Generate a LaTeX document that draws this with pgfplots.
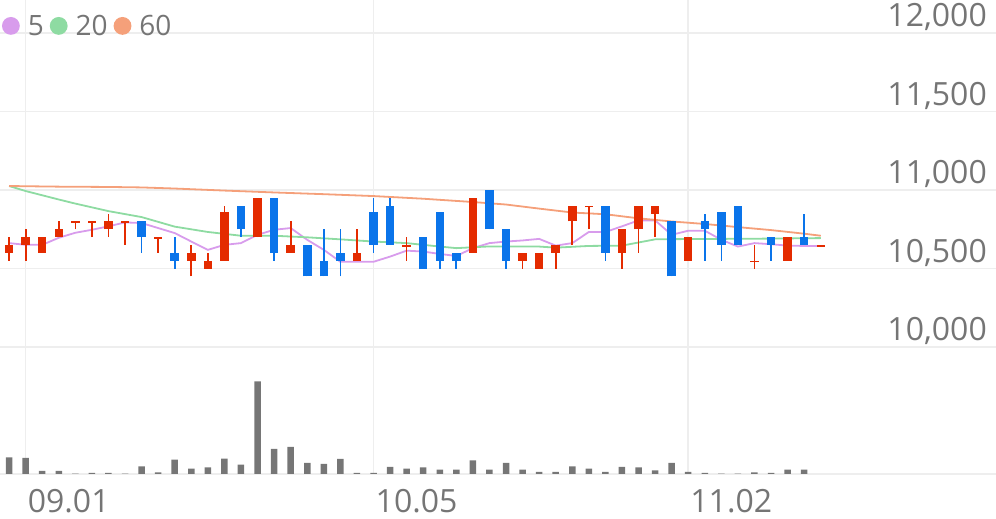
\documentclass[border=0pt]{standalone}
\usepackage{fontspec}
\setmainfont{Open Sans}
\usepackage{pgfplots}
\pgfplotsset{compat=1.18}
\usepackage{pgfplotstable}
\definecolor{upred}{HTML}{E42B00}
\definecolor{dnblue}{HTML}{0A74EA}
\definecolor{ma5}{HTML}{D89CEC}
\definecolor{ma20}{HTML}{8EDBA2}
\definecolor{ma60}{HTML}{F5A07A}
\definecolor{volc}{HTML}{767676}
\definecolor{gridc}{HTML}{EEEEEE}
\definecolor{txt}{HTML}{757575}

\pgfplotstableread{
i o h l c
0 10600 10700 10550 10650
1 10650 10750 10550 10700
2 10600 10700 10600 10700
3 10700 10800 10700 10750
4 10790 10800 10750 10800
5 10790 10800 10700 10800
6 10750 10850 10700 10800
7 10790 10800 10650 10800
9 10690 10700 10600 10700
11 10550 10650 10450 10600
12 10500 10600 10500 10550
13 10550 10900 10550 10860
15 10700 10950 10700 10950
17 10600 10800 10600 10650
21 10550 10750 10550 10600
24 10640 10700 10550 10650
28 10600 10950 10600 10950
31 10550 10600 10500 10600
32 10500 10600 10500 10600
33 10600 10650 10500 10650
34 10800 10900 10650 10900
35 10890 10900 10750 10900
37 10600 10750 10500 10750
38 10750 10900 10600 10900
39 10850 10900 10700 10900
41 10550 10700 10550 10700
45 10540 10650 10500 10550
47 10550 10700 10550 10700
49 10640 10650 10640 10650
}\upT

\pgfplotstableread{
i o h l c
8 10800 10800 10600 10700
10 10600 10700 10500 10550
14 10900 10900 10700 10750
16 10950 10950 10550 10600
18 10650 10650 10450 10450
19 10550 10750 10450 10450
20 10600 10750 10450 10550
22 10860 10950 10600 10650
23 10900 10950 10650 10650
25 10700 10700 10500 10500
26 10860 10860 10500 10550
27 10600 10600 10500 10550
29 11000 11000 10750 10750
30 10750 10750 10500 10550
36 10900 10900 10550 10600
40 10800 10800 10450 10450
42 10800 10850 10550 10750
43 10860 10860 10550 10650
44 10900 10900 10650 10650
46 10700 10700 10550 10650
48 10700 10850 10650 10650
}\dnT

\begin{document}
\begin{tikzpicture}
\begin{axis}[
  at={(0,0)}, anchor=south west,
  scale only axis, width=996pt, height=474pt,
  xmin=-0.549, xmax=59.58, ymin=9190, ymax=12212,
  axis line style={draw=none}, major tick length=0pt,
  xtick={1,22,41}, xticklabels={09.01,10.05,11.02},
  ytick={10000,10500,11000,11500,12000},
  scaled y ticks=false,
  yticklabel pos=right,
  xmajorgrids, ymajorgrids, grid style={gridc, line width=1.5pt},
  tick label style={font=\fontsize{32}{32}\selectfont, text=txt, inner sep=0pt},
  xticklabel style={anchor=base west, yshift=-38pt, xshift=2pt},
  yticklabel style={anchor=base east, xshift=-9pt, yshift=6.5pt,
    /pgf/number format/fixed, /pgf/number format/precision=0,
    /pgf/number format/1000 sep={,}, /pgf/number format/assume math mode=true},
  legend columns=-1,
  legend image code/.code={\fill[#1] (8pt,0pt) circle (8pt);},
  legend style={at={(axis description cs:0,1)}, anchor=north west, xshift=2pt, yshift=-15pt,
    draw=none, fill=none, inner sep=0pt, outer sep=0pt,
    font=\fontsize{28}{28}\selectfont, text=txt,
    nodes={inner sep=0pt},
    /tikz/every odd column/.append style={column sep=8pt},
    /tikz/every even column/.append style={column sep=6pt}},
]
\addplot[ma5, line width=1.8pt] coordinates {
(0,10662) (1,10651) (2,10651) (3,10696) (4,10728) (5,10747) (6,10769) (7,10794) (8,10790) (9,10758)
(10,10726) (11,10672) (12,10619) (13,10651) (14,10662) (15,10715) (16,10747) (17,10758) (18,10683) (19,10619)
(20,10543) (21,10543) (22,10543) (23,10576) (24,10614) (25,10608) (26,10593) (27,10580) (28,10630) (29,10662)
(30,10672) (31,10679) (32,10689) (33,10646) (34,10662) (35,10733) (36,10733) (37,10769) (38,10807) (39,10807)
(40,10715) (41,10741) (42,10741) (43,10683) (44,10640) (45,10662) (46,10655) (47,10646) (48,10644) (49,10644)};
\addlegendentry{5}
\addplot[ma20, line width=1.8pt] coordinates {
(0,11026) (1,10994) (3,10940) (4,10914) (6,10866) (8,10828) (10,10767) (12,10733) (14,10709) (16,10709)
(18,10699) (20,10686) (22,10672) (24,10662) (26,10640) (27,10630) (29,10641) (32,10640) (33,10633) (35,10644)
(37,10646) (39,10686) (41,10688) (45,10690) (49,10694)};
\addlegendentry{20}
\addplot[ma60, line width=1.8pt] coordinates {
(0,11026) (3,11022) (6,11020) (8,11017) (10,11010) (13,10997) (16,10985) (19,10974) (22,10962) (25,10945)
(28,10924) (30,10908) (32,10882) (34,10857) (36,10846) (38,10820) (40,10800) (42,10784) (44,10764) (46,10745)
(48,10722) (49,10709)};
\addlegendentry{60}
% wicks
\addplot[forget plot, draw=none, mark=none, error bars/.cd, y dir=plus, y explicit, error mark=none,
  error bar style={line width=1.7pt, draw=upred, solid}]
  table[x=i, y=l, y error plus expr=\thisrow{h}-\thisrow{l}] {\upT};
\addplot[forget plot, draw=none, mark=none, error bars/.cd, y dir=plus, y explicit, error mark=none,
  error bar style={line width=1.7pt, draw=dnblue, solid}]
  table[x=i, y=l, y error plus expr=\thisrow{h}-\thisrow{l}] {\dnT};
% bodies
\addplot[forget plot, draw=none, mark=none, error bars/.cd, y dir=plus, y explicit, error mark=none,
  error bar style={line width=8.5pt, draw=upred, solid}]
  table[x=i, y=o, y error plus expr=\thisrow{c}-\thisrow{o}] {\upT};
\addplot[forget plot, draw=none, mark=none, error bars/.cd, y dir=plus, y explicit, error mark=none,
  error bar style={line width=8.5pt, draw=dnblue, solid}]
  table[x=i, y=c, y error plus expr=\thisrow{o}-\thisrow{c}] {\dnT};
\end{axis}
\begin{axis}[
  at={(0,0)}, anchor=south west,
  scale only axis, width=996pt, height=474pt,
  xmin=-0.549, xmax=59.58, ymin=0, ymax=474000,
  axis line style={draw=none}, major tick length=0pt,
  xtick=\empty, ytick={0}, yticklabels={}, ymajorgrids,
  grid style={gridc, line width=1.5pt},
]
\addplot[ybar, bar width=6.5pt, bar shift=0pt, fill=volc, draw=none] coordinates {
(0,16700) (1,16000) (2,3000) (3,3000) (4,300) (5,1000) (6,1000) (7,300) (8,7700) (9,1700)
(10,14300) (11,5300) (12,6700) (13,15300) (14,9300) (15,92700) (16,25000) (17,27000) (18,11000) (19,10000)
(20,15000) (21,1000) (22,1000) (23,7000) (24,5300) (25,6700) (26,4300) (27,4300) (28,13700) (29,4300)
(30,11000) (31,4300) (32,2000) (33,2000) (34,7700) (35,5300) (36,2000) (37,7000) (38,6700) (39,3700)
(40,11000) (41,2000) (42,1000) (43,300) (44,300) (45,1700) (46,1000) (47,4300) (48,4300)};
\end{axis}
\pgfresetboundingbox
\path[use as bounding box] (0,-45pt) rectangle (996pt,474pt);
\end{tikzpicture}
\end{document}
